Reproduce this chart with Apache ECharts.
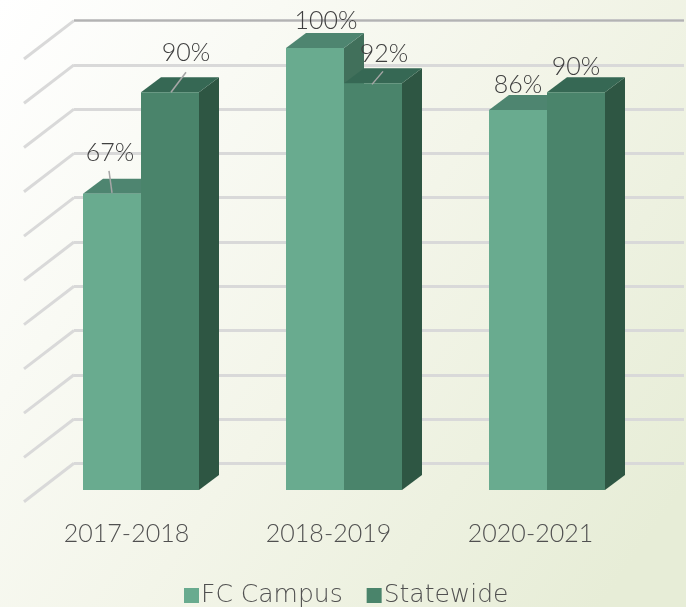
<!DOCTYPE html>
<html>
<head>
<meta charset="utf-8">
<style>html,body{margin:0;padding:0;background:#fff}#c{width:686px;height:607px}</style>
<script src="https://cdn.jsdelivr.net/npm/echarts@6/dist/echarts.min.js"></script>
</head>
<body>
<div id="c"></div>
<script>
const years = ['2017-2018', '2018-2019', '2020-2021'];
const fcCampus = [67, 100, 86];
const statewide = [90, 92, 90];
const gridValues = [0, 10, 20, 30, 40, 50, 60, 70, 80, 90, 100];

const FONT = 'Lato';
const LEGEND_FONT = '"DejaVu Sans"';
const TEXT = '#404040';
const AXIS_TEXT = '#505050';
const BAR_W = 58, DX = 20, DY = 15;
const WALL_DX = 50, WALL_DY = 38.4;
const fcColors = {front: '#69ab8f', top: '#4e8570', side: '#41705b'};
const swColors = {front: '#4a846b', top: '#366854', side: '#2e5643'};
// label centre relative to the bar's front-top centre; optional leader line
const fcLabels = [
  {dx: -2, dy: -41, line: [-3, -23, 0, -1]},
  {dx: 11, dy: -27},
  {dx: 0, dy: -25}
];
const swLabels = [
  {dx: 16, dy: -39, line: [16, -20, 1, 0]},
  {dx: 11, dy: -29, line: [10, -12, -1, 1]},
  {dx: 0, dy: -25}
];

function bar3d(side, colors, labels) {
  return function (params, api) {
    const i = api.value(0), v = api.value(1);
    const cx = api.coord([i, 0])[0];
    const base = api.coord([i, 0])[1];
    const y = api.coord([i, v])[1];
    const x0 = side === 0 ? cx - BAR_W : cx;
    const x1 = x0 + BAR_W;
    const poly = (pts, fill) => ({type: 'polygon', shape: {points: pts}, style: {fill: fill}});
    const children = [
      poly([[x1, y], [x1 + DX, y - DY], [x1 + DX, base - DY], [x1, base]], colors.side),
      poly([[x0, y], [x0 + DX, y - DY], [x1 + DX, y - DY], [x1, y]], colors.top),
      {type: 'rect', shape: {x: x0, y: y, width: BAR_W, height: base - y}, style: {fill: colors.front}}
    ];
    const mx = (x0 + x1) / 2, lab = labels[params.dataIndex];
    if (lab.line) {
      children.push({type: 'line', shape: {x1: mx + lab.line[0], y1: y + lab.line[1], x2: mx + lab.line[2], y2: y + lab.line[3]},
        style: {stroke: '#a6a6a6', lineWidth: 1.5}});
    }
    children.push({type: 'text', style: {x: mx + lab.dx, y: y + lab.dy, text: v + '%', align: 'center', verticalAlign: 'middle',
      font: '300 25px ' + FONT, fill: TEXT}});
    return {type: 'group', children: children};
  };
}

function wallLines(params, api) {
  const v = api.value(0);
  const p = api.coord([0, v]);
  const children = [{type: 'line', shape: {x1: p[0], y1: p[1], x2: p[0] - WALL_DX, y2: p[1] + WALL_DY},
    style: {stroke: '#d9d9d9', lineWidth: 3}}];
  if (v === 100) {
    children.push({type: 'line', shape: {x1: p[0], y1: p[1], x2: 684, y2: p[1]}, style: {stroke: '#b3b3b3', lineWidth: 2}});
  }
  return {type: 'group', children: children};
}

const chart = echarts.init(document.getElementById('c'), null, {renderer: 'canvas'});
chart.setOption({
  animation: false,
  backgroundColor: new echarts.graphic.LinearGradient(0, 0, 1, 0.8, [
    {offset: 0, color: '#ffffff'},
    {offset: 0.55, color: '#f3f5e9'},
    {offset: 1, color: '#e7edd7'}
  ]),
  legend: {
    show: true, bottom: -6, left: 179, itemWidth: 15, itemHeight: 15, itemGap: 24, icon: 'rect',
    data: ['FC Campus', 'Statewide'],
    textStyle: {fontFamily: LEGEND_FONT, fontWeight: 200, fontSize: 25, color: AXIS_TEXT, padding: [0, 0, 0, -3]}
  },
  grid: [
    {left: 39.5, width: 609, top: 48, height: 442},
    {left: 74, width: 610, top: 20.6, height: 442.7},
    {left: 25.5, width: 606, top: 48, height: 442}
  ],
  xAxis: [
    {type: 'category', gridIndex: 0, data: years, axisLine: {show: false}, axisTick: {show: false}, axisLabel: {show: false}},
    {type: 'value', gridIndex: 1, min: 0, max: 1, show: false},
    {type: 'category', gridIndex: 2, data: years, axisLine: {show: false}, axisTick: {show: false},
      axisLabel: {margin: 31, fontFamily: FONT, fontWeight: 300, fontSize: 25, color: AXIS_TEXT}}
  ],
  yAxis: [
    {type: 'value', gridIndex: 0, min: 0, max: 100, show: false, splitLine: {show: false}},
    {type: 'value', gridIndex: 1, min: 0, max: 100, interval: 10, axisLine: {show: false}, axisTick: {show: false}, axisLabel: {show: false},
      splitLine: {show: true, lineStyle: {color: '#d9d9d9', width: 3}}},
    {type: 'value', gridIndex: 2, min: 0, max: 100, show: false, splitLine: {show: false}}
  ],
  series: [
    {name: 'Walls', type: 'custom', xAxisIndex: 1, yAxisIndex: 1, z: 1, silent: true, clip: false, encode: {y: 0},
      data: gridValues.map(v => [v]), renderItem: wallLines},
    {name: 'FC Campus', type: 'custom', xAxisIndex: 0, yAxisIndex: 0, z: 3, clip: false, itemStyle: {color: fcColors.front},
      encode: {x: 0, y: 1}, data: fcCampus.map((v, i) => [i, v]), renderItem: bar3d(0, fcColors, fcLabels)},
    {name: 'Statewide', type: 'custom', xAxisIndex: 0, yAxisIndex: 0, z: 4, clip: false, itemStyle: {color: swColors.front},
      encode: {x: 0, y: 1}, data: statewide.map((v, i) => [i, v]), renderItem: bar3d(1, swColors, swLabels)}
  ]
});
</script>
</body>
</html>
